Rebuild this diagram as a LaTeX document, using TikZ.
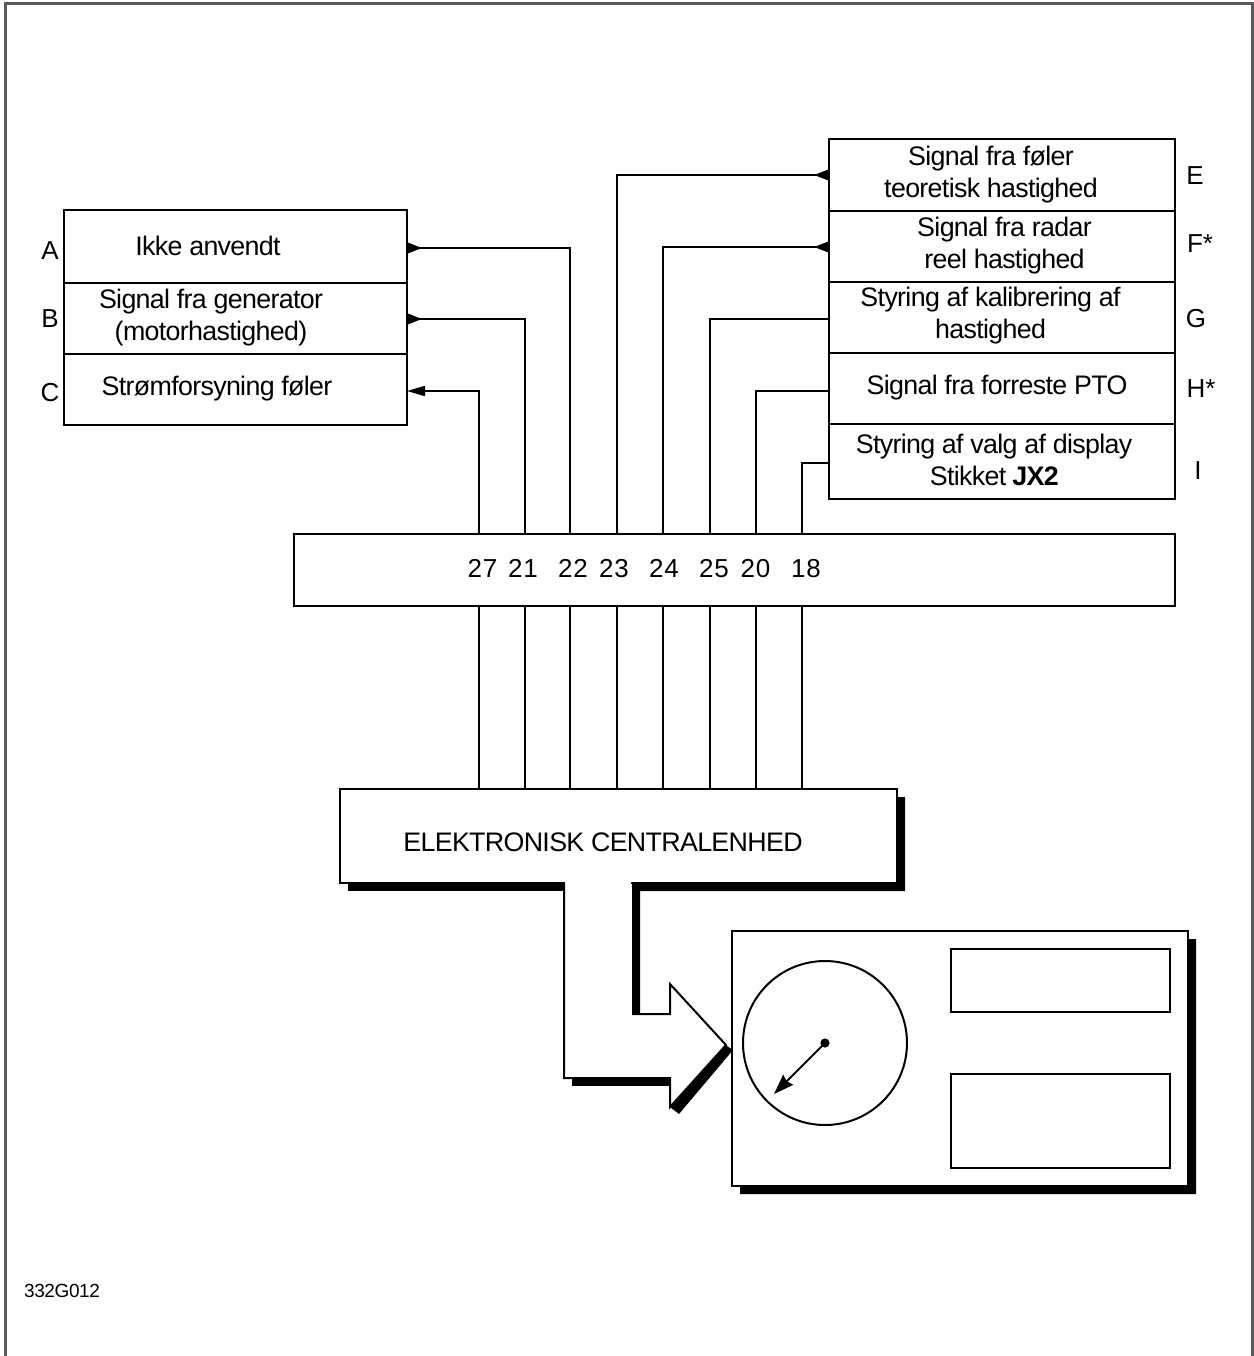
\documentclass[tikz,border=0pt]{standalone}
\usepackage{fontspec}
\setmainfont{Liberation Sans}
\usetikzlibrary{arrows.meta, calc}

\tikzset{
	cell/.style = {draw, line width = 1pt, fill = white, inner sep = 0pt, outer sep = 0pt},
	leftcell/.style = {cell, minimum width = 171.5pt},
	rightcell/.style = {cell, minimum width = 173pt},
	caption/.style = {align = center, font = \fontsize{13.4}{16}\selectfont\addfontfeature{LetterSpace=-2.5}},
	letter/.style = {text height = 9.3pt, text depth = 0pt, font = \fontsize{13}{14}\selectfont},
	pinno/.style = {text height = 9.3pt, text depth = 0pt, font = \fontsize{13}{14}\selectfont\addfontfeature{LetterSpace=2.5}},
	wire/.style = {line width = 1pt},
	outtip/.style = {{Triangle[reversed, length = 7.5pt, width = 5.5pt]}-},
	intip/.style = {{Triangle[length = 9pt, width = 5pt]}-}
}

\begin{document}
\begin{tikzpicture}[x = 0.5pt, y = -0.5pt]
		\useasboundingbox (0, 0) rectangle (1254, 1356);
		
		% frame
		\draw [line width = 1.5pt, black!65] (5, 1356) -- (5, 3) -- (1252, 3) -- (1252, 1356);
		
		% left group
		\node [leftcell, minimum height = 36.5pt] (boxa) at (235.5, 246.5) {};
		\node [leftcell, minimum height = 35.5pt] (boxb) at (235.5, 318.5) {};
		\node [leftcell, minimum height = 35.5pt] (boxc) at (235.5, 389.5) {};
		
		\node [caption] (texta) at (208, 245.5) {Ikke anvendt};
		\node [caption] (textb) at (211, 318) {Signal fra generator\\(motorhastighed)};
		\node [caption] (textc) at (217, 389) {Strømforsyning føler};
		
		\node [letter] (laba) at (50, 250) {A};
		\node [letter] (labb) at (50, 318) {B};
		\node [letter] (labc) at (50, 392) {C};
		
		% right group
		\node [rightcell, minimum height = 36pt] (boxe) at (1002, 175) {};
		\node [rightcell, minimum height = 35.5pt] (boxf) at (1002, 246.5) {};
		\node [rightcell, minimum height = 35.5pt] (boxg) at (1002, 317.5) {};
		\node [rightcell, minimum height = 35.5pt] (boxh) at (1002, 388.5) {};
		\node [rightcell, minimum height = 37.5pt] (boxi) at (1002, 461.5) {};
		
		\node [caption] (texte) at (991, 174.5) {Signal fra føler\\teoretisk hastighed};
		\node [caption] (textf) at (1004.5, 246) {Signal fra radar\\reel hastighed};
		\node [caption] (textg) at (990.5, 316) {Styring af kalibrering af\\hastighed};
		\node [caption] (texth) at (997, 388) {Signal fra forreste PTO};
		\node [caption] (texti) at (994, 460) {Styring af valg af display\\Stikket \textbf{JX2}};
		
		\node [letter] (labe) at (1195, 175) {E};
		\node [letter] (labf) at (1200, 243) {F*};
		\node [letter] (labg) at (1196, 318) {G};
		\node [letter] (labh) at (1201, 388) {H*};
		\node [letter] (labi) at (1198, 470) {I};
		
		% connector block
		\node [cell, minimum width = 440.5pt, minimum height = 36pt] (bus) at (734.5, 569.5) {};
		
		\foreach \pin/\x/\tx in {27/479/482.5, 21/525/523, 22/570/573, 23/617/614, 24/663/664, 25/710/714, 20/756/755.5, 18/802/806} {
			\coordinate (pin\pin) at (\x, 569.5);
			\node [pinno] (no\pin) at (\tx, 568) {\pin};
		}
		
		% shadows
		\fill (897, 797) -- (905, 797) -- (905, 891) -- (640, 891) -- (640, 1014) -- (632, 1014) -- (632, 883) -- (897, 883) -- cycle;
		\fill (348, 883) rectangle (564, 891);
		\fill (572, 1078) rectangle (670, 1086);
		\fill (724, 1044) -- (733, 1050) -- (679, 1114) -- (670, 1107) -- cycle;
		\fill (1188, 939) -- (1196, 939) -- (1196, 1194) -- (740, 1194) -- (740, 1186) -- (1188, 1186) -- cycle;
		
		% central unit
		\node [cell, minimum width = 278.5pt, minimum height = 47pt] (ecu) at (618.5, 836) {};
		\node [caption] (textecu) at (603, 842.5) {ELEKTRONISK CENTRALENHED};
		
		\foreach \pin in {27, 21, 22, 23, 24, 25, 20, 18} {
			\draw [wire] (pin\pin |- bus.south) -- (pin\pin |- ecu.north);
		}
		
		% wide arrow
		\fill [white] (565, 882) -- (631, 882) -- (631, 1014) -- (670, 1014) -- (670, 984) -- (726, 1045) -- (670, 1107) -- (670, 1078) -- (565, 1078) -- cycle;
		\draw [line width = 1pt] (564, 883) -- (564, 1078) -- (670, 1078) -- (670, 1107) -- (726, 1045) -- (670, 984) -- (670, 1014) -- (632, 1014);
		
		% display
		\node [cell, minimum width = 228pt, minimum height = 127.5pt] (panel) at (960, 1058.5) {};
		\node [cell, minimum width = 109.5pt, minimum height = 31.5pt] (upper) at (1060.5, 980.5) {};
		\node [cell, minimum width = 109.5pt, minimum height = 47pt] (lower) at (1060.5, 1121) {};
		\node [cell, circle, minimum size = 82pt] (dial) at (825, 1043) {};
		
		\fill (dial.center) circle [radius = 2.3pt];
		\coordinate (needle) at (774, 1094);
		\draw [line width = 0.9pt, -{Stealth[length = 10pt, width = 7pt, inset = 1pt]}] (dial.center) -- (needle);
		
		% wires to the cells
		\foreach \cell/\side/\pin/\dy/\tip in {boxa/east/22/-0.75/outtip, boxb/east/21/-0.25/outtip, boxc/east/27/-0.75/intip, boxe/west/23/0/outtip, boxf/west/24/-0.25/outtip, boxg/west/25/-0.75/wire, boxh/west/20/-1.25/wire, boxi/west/18/-0.75/wire} {
			\coordinate (\cell end) at ([yshift = \dy pt]\cell.\side);
			\draw [wire, \tip] (\cell end) -| (pin\pin |- bus.north);
		}
		
		\node [font = \fontsize{9.5}{11}\selectfont\addfontfeature{LetterSpace=-2}] (code) at (62, 1291) {332G012};
	\end{tikzpicture}
\end{document}
